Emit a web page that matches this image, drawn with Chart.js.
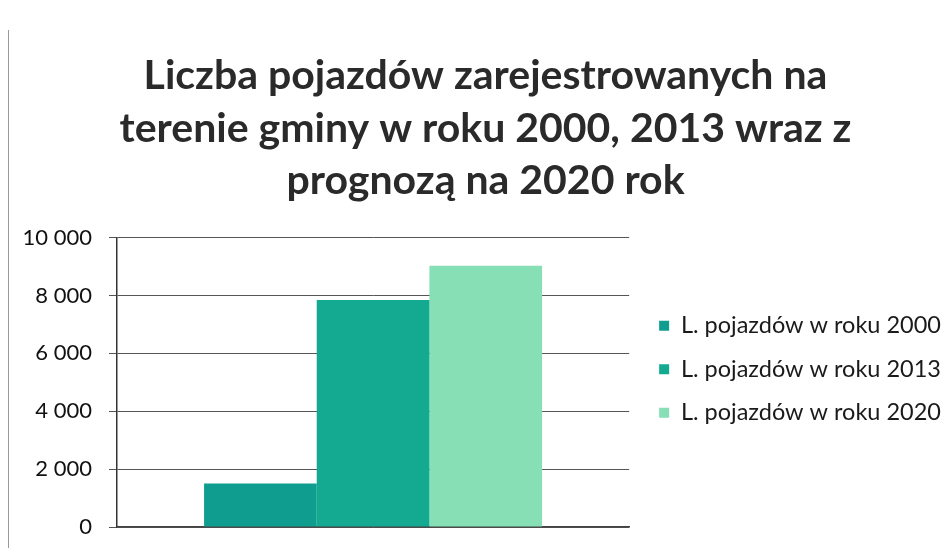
<!DOCTYPE html>
<html>
<head>
<meta charset="utf-8">
<script src="https://cdn.jsdelivr.net/npm/chart.js@4"></script>
<style>
  html, body { margin: 0; padding: 0; background: #fff; }
  #wrap { position: relative; width: 951px; height: 548px; }
  #edge { position: absolute; left: 8px; top: 30px; bottom: 0; border-left: 1.5px solid #9a9a9a; }
</style>
</head>
<body>
<div id="wrap">
  <div id="edge"></div>
  <canvas id="chart" width="951" height="548"></canvas>
</div>
<script>
// data
const categories = [''];
const seriesLabels = ['L. pojazdów w roku 2000', 'L. pojazdów w roku 2013', 'L. pojazdów w roku 2020'];
const values2000 = [1500];
const values2013 = [7850];
const values2020 = [9030];
const yTicks = [0, 2000, 4000, 6000, 8000, 10000];
const titleLines = ['Liczba pojazdów zarejestrowanych na', 'terenie gminy w roku 2000, 2013 wraz z', 'prognozą na 2020 rok'];

const barColors = ['#0f9d90', '#14aa92', '#86dfb5'];

function fmt(v){
  return String(v).replace(/\B(?=(\d{3})+(?!\d))/g, ' ');
}

new Chart(document.getElementById('chart'), {
  type: 'bar',
  data: {
    labels: categories,
    datasets: [values2000, values2013, values2020].map((d, i) => ({
      label: seriesLabels[i],
      data: d,
      backgroundColor: barColors[i],
      borderWidth: 0
    }))
  },
  options: {
    responsive: false,
    animation: false,
    layout: { padding: { left: 20, right: 0, top: 0, bottom: 0 } },
    datasets: { bar: { barPercentage: 1, categoryPercentage: 0.66 } },
    scales: {
      x: {
        ticks: { display: false },
        grid: { display: false },
        border: { color: '#444', width: 1.5 },
        afterFit: s => { s.height = 12; }
      },
      y: {
        min: 0,
        max: 10000,
        afterBuildTicks: s => { s.ticks = yTicks.map(v => ({ value: v })); },
        ticks: {
          color: '#111',
          font: { family: 'Lato', size: 22 },
          padding: 17,
          callback: v => fmt(v)
        },
        grid: { color: '#555', lineWidth: 1, tickLength: 8 },
        border: { color: '#333', width: 1.5 },
        afterFit: s => { s.width = 97; s.paddingBottom = 21; s.paddingTop = 13; }
      },
      // empty spacer between plot and legend
      gap: {
        position: 'right',
        type: 'linear',
        display: true,
        ticks: { display: false },
        grid: { display: false },
        border: { display: false },
        afterFit: s => { s.width = 10; }
      }
    },
    plugins: {
      title: {
        display: true,
        text: titleLines,
        color: '#2a2a2a',
        font: { family: 'Lato', size: 41, weight: 'bold', lineHeight: 1.29 },
        padding: { top: 49, bottom: 30 }
      },
      legend: {
        position: 'right',
        maxWidth: 400,
        title: { display: true, text: '', font: { size: 12 }, padding: 88 },
        labels: {
          color: '#1a1a1a',
          font: { family: 'Lato', size: 23.5 },
          boxWidth: 10,
          boxHeight: 10,
          padding: 20
        }
      },
      tooltip: { enabled: false }
    }
  }
});
</script>
</body>
</html>
